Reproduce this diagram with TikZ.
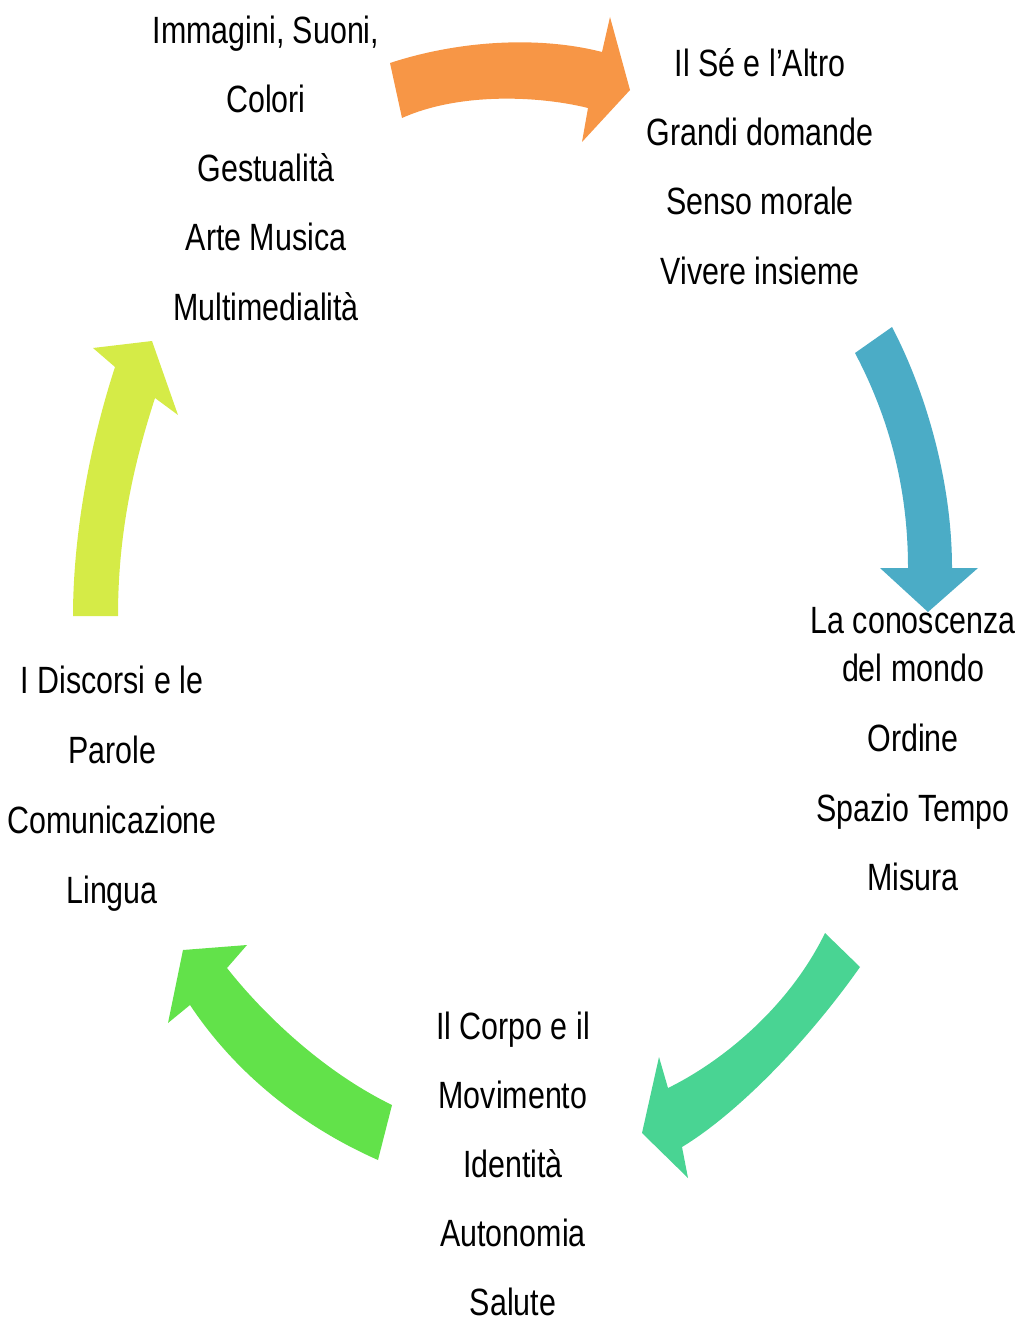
\documentclass[tikz,border=0pt]{standalone}
\usepackage{fontspec}
\setmainfont[FakeStretch=0.8]{Liberation Sans}
\definecolor{corange}{HTML}{F79646}
\definecolor{cblue}{HTML}{4BACC6}
\definecolor{cteal}{HTML}{49D493}
\definecolor{cgreen}{HTML}{62E24A}
\definecolor{cyellow}{HTML}{D5EB47}
\tikzset{
  lbl/.style={anchor=base, inner sep=0pt, font=\fontsize{38}{46}\selectfont, text=black},
}
\begin{document}
\begin{tikzpicture}[x=1pt,y=-1pt]
\useasboundingbox (0,0) rectangle (1021,1321);
% arrows
\fill[corange] (390,63) .. controls (460,40) and (540,36) .. (602,52)
  -- (610,17) -- (630,90) -- (582,142) -- (588,108)
  .. controls (540,96) and (460,92) .. (402,118) -- cycle;
\fill[cblue] (892,327) .. controls (925,390) and (952,480) .. (952,568)
  -- (978,568) -- (928,612) -- (880,568) -- (908,568)
  .. controls (908,480) and (885,410) .. (855,353) -- cycle;
\fill[cteal] (860,967) .. controls (805,1045) and (735,1115) .. (682,1147)
  -- (688,1178) -- (642,1133) -- (659,1057) -- (668,1088)
  .. controls (725,1060) and (790,1005) .. (825,933) -- cycle;
\fill[cgreen] (392,1105) .. controls (320,1070) and (260,1010) .. (227,968)
  -- (247,945) -- (183,950) -- (168,1023) -- (190,1005)
  .. controls (240,1080) and (310,1130) .. (378,1160) -- cycle;
\fill[cyellow] (118,616) .. controls (118,530) and (135,460) .. (155,398)
  -- (178,415) -- (152,341) -- (93,348) -- (115,367)
  .. controls (88,450) and (73,540) .. (73,616) -- cycle;
% top-left group
\node[lbl] (a1) at (266,44) {Immagini, Suoni,};
\node[lbl] (a2) at (266,113) {Colori};
\node[lbl] (a3) at (266,182) {Gestualità};
\node[lbl] (a4) at (266,251) {Arte Musica};
\node[lbl] (a5) at (266,320) {Multimedialità};
% top-right group
\node[lbl] (b1) at (760,77) {Il Sé e l’Altro};
\node[lbl] (b2) at (760,146) {Grandi domande};
\node[lbl] (b3) at (760,215) {Senso morale};
\node[lbl] (b4) at (760,284) {Vivere insieme};
% right group
\node[lbl] (c1) at (913,633) {La conoscenza};
\node[lbl] (c2) at (913,681) {del mondo};
\node[lbl] (c3) at (913,751) {Ordine};
\node[lbl] (c4) at (913,821) {Spazio Tempo};
\node[lbl] (c5) at (913,890) {Misura};
% bottom group
\node[lbl] (d1) at (513,1039) {Il Corpo e il};
\node[lbl] (d2) at (513,1108) {Movimento};
\node[lbl] (d3) at (513,1177) {Identità};
\node[lbl] (d4) at (513,1246) {Autonomia};
\node[lbl] (d5) at (513,1315) {Salute};
% left group
\node[lbl] (e1) at (112,693) {I Discorsi e le};
\node[lbl] (e2) at (112,763) {Parole};
\node[lbl] (e3) at (112,833) {Comunicazione};
\node[lbl] (e4) at (112,903) {Lingua};
\end{tikzpicture}
\end{document}
